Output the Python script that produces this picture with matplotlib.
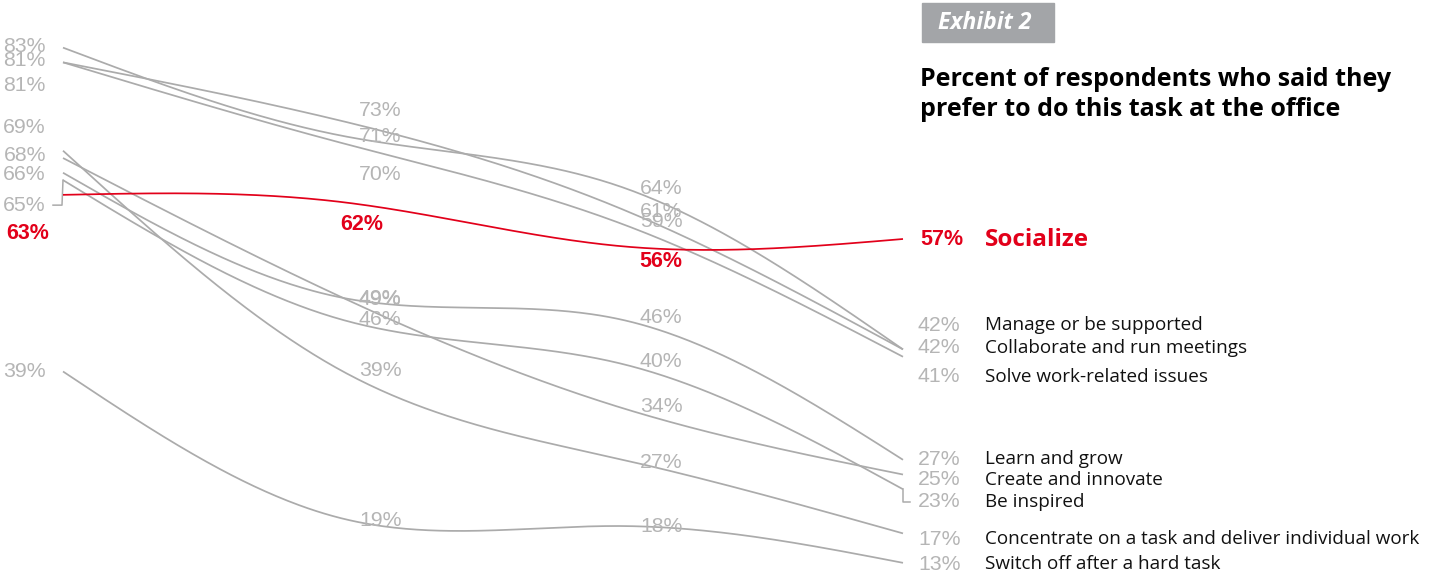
import numpy as np
import matplotlib
matplotlib.use("Agg")
import matplotlib.pyplot as plt
from matplotlib.patches import Rectangle

# ---------------- data ----------------
tasks = ["Socialize", "Manage or be supported", "Collaborate and run meetings",
         "Solve work-related issues", "Learn and grow", "Create and innovate",
         "Be inspired", "Concentrate on a task and deliver individual work",
         "Switch off after a hard task"]
stages = [0, 1, 2, 3]
socialize = [63, 62, 56, 57]
manage = [83, 71, 64, 42]
collaborate = [81, 73, 61, 42]
solve = [81, 70, 59, 41]
learn = [66, 49, 46, 27]
create = [68, 49, 34, 25]
inspired = [65, 46, 40, 23]
concentrate = [69, 39, 27, 17]
switch_off = [39, 19, 18, 13]
series = [socialize, manage, collaborate, solve, learn, create, inspired,
          concentrate, switch_off]

# ---------------- layout (label positions in value units) ----------------
lab_y = {
    0: [57.8, 83.1, 81.3, 77.8, 65.7, 68.4, 61.6, 72.2, 39.0],
    1: [59.0, 70.9, 74.5, 65.8, 48.8, 48.9, 46.0, 39.2, 18.7],
    2: [53.9, 63.8, 60.7, 59.4, 46.3, 34.2, 40.3, 26.6, 18.0],
    3: [56.9, 45.3, 42.2, 38.3, 27.1, 24.3, 21.3, 16.2, 12.8],
}
lab_dx = {0: -17, 1: 16, 2: 17, 3: 15}
red_dx = {0: -14, 1: -3, 2: 16, 3: 17}

W, H = 1439, 575
GREY_LINE = "#ababab"
GREY_TEXT = "#b5b5b5"
RED = "#e2001a"
SANS = ["Open Sans", "Noto Sans", "DejaVu Sans"]

fig = plt.figure(figsize=(W / 100, H / 100), dpi=100)
fig.patch.set_facecolor("white")


def ypx(v):
    return 239 + (57 - v) * 7.36


ylo, yhi = 12, 85
ax = fig.add_axes([63 / W, 1 - ypx(ylo) / H, 840 / W, (ypx(ylo) - ypx(yhi)) / H])
ax.set_xlim(0, 3)
ax.set_ylim(ylo, yhi)
ax.axis("off")


def natural_spline(x, y, n=300):
    x = np.asarray(x, float)
    y = np.asarray(y, float)
    k = len(x)
    h = np.diff(x)
    A = np.zeros((k, k))
    b = np.zeros(k)
    A[0, 0] = 1
    A[-1, -1] = 1
    for i in range(1, k - 1):
        A[i, i - 1] = h[i - 1]
        A[i, i] = 2 * (h[i - 1] + h[i])
        A[i, i + 1] = h[i]
        b[i] = 6 * ((y[i + 1] - y[i]) / h[i] - (y[i] - y[i - 1]) / h[i - 1])
    M = np.linalg.solve(A, b)
    xs = np.linspace(x[0], x[-1], n)
    ys = np.empty_like(xs)
    for j, xv in enumerate(xs):
        i = min(np.searchsorted(x, xv, side="right") - 1, k - 2)
        hi = h[i]
        t1 = x[i + 1] - xv
        t0 = xv - x[i]
        ys[j] = (M[i] * t1 ** 3 / (6 * hi) + M[i + 1] * t0 ** 3 / (6 * hi)
                 + (y[i] / hi - M[i] * hi / 6) * t1
                 + (y[i + 1] / hi - M[i + 1] * hi / 6) * t0)
    return xs, ys


for idx, vals in enumerate(series):
    xs, ys = natural_spline(stages, vals)
    red = idx == 0
    ax.plot(xs, ys, color=RED if red else GREY_LINE, lw=1.25,
            zorder=3 if red else 2, clip_on=False, solid_capstyle="butt")

# value labels
num_font = "Liberation Sans"
for idx, vals in enumerate(series):
    red = idx == 0
    for col in stages:
        dx = red_dx[col] if red else lab_dx[col]
        ha = "right" if col == 0 else "left"
        ax.annotate(f"{vals[col]}%", xy=(stages[col], lab_y[col][idx]),
                    xytext=(dx, 0), textcoords="offset pixels",
                    ha=ha, va="center", fontsize=15.5 if red else 15.3,
                    fontweight="bold" if red else "normal",
                    color=RED if red else GREY_TEXT, family=num_font,
                    annotation_clip=False)

# category names at the end
for idx, name in enumerate(tasks):
    red = idx == 0
    ax.annotate(name, xy=(stages[-1], lab_y[3][idx]), xytext=(82, 0),
                textcoords="offset pixels", ha="left", va="center",
                fontsize=17.5 if red else 13.6,
                fontweight="bold" if red else "normal",
                color=RED if red else "#111111", family=SANS,
                annotation_clip=False)

# leader lines
ax.plot([0, -1 / 280, -10 / 280], [inspired[0], lab_y[0][6], lab_y[0][6]],
        color=GREY_LINE, lw=1.1, clip_on=False)
ax.plot([3, 3, 3 + 7 / 280], [inspired[3], lab_y[3][6], lab_y[3][6]],
        color=GREY_LINE, lw=1.1, clip_on=False)

# exhibit box and title
fig.patches.append(Rectangle((922 / W, 1 - 42 / H), 132 / W, 39 / H,
                             transform=fig.transFigure, color="#a3a5a8",
                             zorder=0))
fig.text(938 / W, 1 - 23 / H, "Exhibit 2", color="white", fontsize=16.5,
         fontweight="bold", style="italic", family=SANS,
         ha="left", va="center")
fig.text(920 / W, 1 - 79 / H, "Percent of respondents who said they",
         color="black", fontsize=18, fontweight="bold", family=SANS,
         ha="left", va="center")
fig.text(920 / W, 1 - 110 / H, "prefer to do this task at the office",
         color="black", fontsize=18, fontweight="bold", family=SANS,
         ha="left", va="center")

fig.savefig("out.png", dpi=100, facecolor="white")
